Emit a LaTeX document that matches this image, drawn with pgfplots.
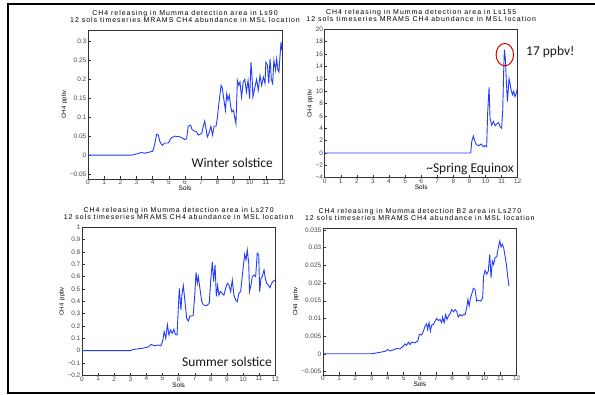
\documentclass[border=0pt]{standalone}
\usepackage{fontspec}
\usepackage{pgfplots}
\pgfplotsset{compat=1.18}
\setmainfont{Liberation Sans}
\newfontfamily\gradsfont[LetterSpace=14]{Liberation Sans}
\newfontfamily\tickfont{Liberation Sans}
\newfontfamily\calib{Carlito}
\definecolor{lineblue}{RGB}{35,60,250}
\definecolor{tickgray}{RGB}{70,70,70}
\pgfplotsset{
  mars/.style={
    scale only axis,
    xmin=0, xmax=12,
    scaled x ticks=false, scaled y ticks=false,
    xtick={0,1,2,3,4,5,6,7,8,9,10,11,12},
    xticklabels={0,1,2,3,4,5,6,7,8,9,10,11,12},
    tick pos=left, tick align=inside,
    major tick length=2.5bp,
    axis line style={black!80, line width=0.6bp},
    every tick/.style={black!80, line width=0.5bp},
    tick label style={font=\fontsize{6.5}{7}\tickfont, text=tickgray},
    xticklabel style={inner sep=1bp},
    yticklabel style={inner sep=1.5bp},
    xlabel={Sols},
    xlabel style={font=\fontsize{6.5}{7}\tickfont, at={(axis description cs:0.5,0)}, anchor=north, yshift=-7bp, inner sep=0pt},
    ylabel={CH4\ \ ppbv},
    ylabel style={font=\fontsize{6}{7}\tickfont, inner sep=1bp},
    title style={font=\fontsize{7}{7}\gradsfont, align=center, at={(axis description cs:0.5,1)}, anchor=south, yshift=1.5bp, inner sep=0pt},
    clip mode=individual,
  },
  ser/.style={lineblue, line width=0.9bp, no marks},
}
\begin{document}
\begin{tikzpicture}
\path[use as bounding box] (0bp,0bp) rectangle (595bp,395bp);
\draw[black, line width=1.8bp] (595bp,390.6bp) -- (8bp,390.6bp) -- (8bp,2bp) -- (595bp,2bp);

% Panel 1
\begin{axis}[mars, at={(88bp,216bp)}, anchor=south west, width=194bp, height=149bp,
  ymin=-0.063, ymax=0.33,
  ytick={-0.05,0,0.05,0.1,0.15,0.2,0.25,0.3},
  yticklabels={−0.05,0,0.05,0.1,0.15,0.2,0.25,0.3},
  title={CH4 releasing in Mumma detection area in Ls90\\12 sols timeseries MRAMS CH4 abundance in MSL location}]
\addplot[ser] coordinates {(0,0) (2.7,0) (3.1,0.004) (3.3,0.007) (3.5,0.005) (3.8,0.008) (4.0,0.01) (4.08,0.02) (4.25,0.055) (4.35,0.053) (4.45,0.035) (4.6,0.026) (4.75,0.032) (4.97,0.032) (5.07,0.04) (5.17,0.046) (5.4,0.05) (5.7,0.048) (6.0,0.041) (6.1,0.043) (6.2,0.076) (6.35,0.079) (6.43,0.068) (6.56,0.064) (6.72,0.061) (6.82,0.053) (7.03,0.057) (7.13,0.076) (7.22,0.09) (7.3,0.07) (7.38,0.048) (7.5,0.06) (7.6,0.076) (7.7,0.053) (7.8,0.076) (7.92,0.076) (8.0,0.097) (8.06,0.123) (8.12,0.145) (8.23,0.184) (8.3,0.178) (8.41,0.145) (8.5,0.118) (8.58,0.162) (8.66,0.145) (8.74,0.158) (8.82,0.13) (8.9,0.114) (9.0,0.118) (9.07,0.10) (9.15,0.083) (9.24,0.197) (9.32,0.184) (9.4,0.193) (9.5,0.153) (9.6,0.193) (9.7,0.2) (9.8,0.167) (9.9,0.197) (10.0,0.149) (10.08,0.245) (10.16,0.197) (10.2,0.153) (10.33,0.18) (10.43,0.2) (10.53,0.171) (10.64,0.21) (10.74,0.184) (10.85,0.206) (10.95,0.189) (11.0,0.245) (11.1,0.237) (11.18,0.189) (11.26,0.254) (11.34,0.2) (11.42,0.189) (11.5,0.25) (11.6,0.224) (11.67,0.254) (11.75,0.224) (11.81,0.219) (11.88,0.263) (11.94,0.298) (12.0,0.276)};
\node[anchor=east, font=\fontsize{13.5}{14}\calib, text=black!90, inner sep=0pt] at (axis description cs:0.954,0.107) {Winter solstice};
\end{axis}

% Panel 2
\begin{axis}[mars, at={(324.7bp,217.3bp)}, anchor=south west, width=193bp, height=148.4bp,
  ymin=-4, ymax=20,
  ytick={-4,-2,0,2,4,6,8,10,12,14,16,18,20},
  yticklabels={−4,−2,0,2,4,6,8,10,12,14,16,18,20},
  title={CH4 releasing in Mumma detection area in Ls155\\12 sols timeseries MRAMS CH4 abundance in MSL location}]
\addplot[ser] coordinates {(0,0) (9.08,0) (9.14,1.8) (9.24,2.75) (9.35,1.8) (9.45,1.3) (9.6,1.2) (9.72,1.45) (9.87,1.0) (9.97,1.2) (10.07,1.0) (10.13,6.4) (10.22,10.6) (10.28,5.6) (10.38,4.5) (10.49,5.1) (10.59,4.4) (10.7,4.7) (10.8,4.9) (10.9,4.3) (11.0,4.0) (11.07,7.0) (11.13,13.4) (11.17,16.7) (11.23,15.3) (11.3,11.3) (11.36,8.3) (11.46,12.0) (11.52,11.3) (11.59,10.2) (11.67,9.4) (11.75,10.0) (11.83,9.1) (11.92,9.7) (12.0,10.8)};
\draw[red!85!black, line width=1bp] (axis cs:11.2,15.9) ellipse [x radius=8.7bp, y radius=11.2bp];
\node[anchor=east, font=\fontsize{13.5}{14}\calib, text=black!90, inner sep=0pt] at (axis description cs:0.981,0.059) {\textasciitilde Spring Equinox};
\node[anchor=west, font=\fontsize{13.5}{14}\calib, text=black!90, inner sep=0pt] at (axis description cs:1.043,0.847) {17 ppbv!};
\end{axis}

% Panel 3
\begin{axis}[mars, at={(82bp,19.7bp)}, anchor=south west, width=193.3bp, height=148bp,
  ymin=-0.2, ymax=1,
  ytick={-0.2,-0.1,0,0.1,0.2,0.3,0.4,0.5,0.6,0.7,0.8,0.9,1},
  yticklabels={−0.2,−0.1,0,0.1,0.2,0.3,0.4,0.5,0.6,0.7,0.8,0.9,1},
  title={CH4 releasing in Mumma detection area in Ls270\\12 sols timeseries MRAMS CH4 abundance in MSL location}]
\addplot[ser] coordinates {(0,0) (3.0,0) (3.2,0.01) (3.8,0.02) (4.1,0.03) (4.3,0.05) (4.5,0.04) (4.7,0.045) (4.9,0.04) (5.0,0.073) (5.1,0.154) (5.2,0.1) (5.3,0.21) (5.4,0.127) (5.5,0.168) (5.6,0.14) (5.7,0.173) (5.8,0.13) (5.9,0.127) (6.04,0.505) (6.14,0.33) (6.2,0.45) (6.29,0.527) (6.39,0.4) (6.5,0.26) (6.6,0.24) (6.7,0.28) (6.9,0.284) (7.0,0.45) (7.08,0.635) (7.16,0.546) (7.22,0.6) (7.32,0.505) (7.43,0.4) (7.53,0.37) (7.74,0.365) (7.9,0.384) (8.0,0.586) (8.09,0.72) (8.17,0.56) (8.26,0.695) (8.34,0.44) (8.42,0.53) (8.5,0.45) (8.6,0.48) (8.7,0.465) (8.81,0.45) (8.92,0.505) (9.02,0.546) (9.12,0.532) (9.23,0.478) (9.33,0.573) (9.43,0.45) (9.54,0.41) (9.64,0.397) (9.74,0.465) (9.85,0.48) (10.0,0.667) (10.1,0.78) (10.18,0.735) (10.26,0.816) (10.35,0.708) (10.4,0.478) (10.49,0.532) (10.57,0.6) (10.68,0.614) (10.78,0.6) (10.88,0.79) (10.97,0.776) (11.03,0.478) (11.11,0.586) (11.19,0.6) (11.3,0.654) (11.38,0.586) (11.46,0.546) (11.57,0.532) (11.67,0.51) (11.77,0.546) (11.88,0.565) (12.0,0.573)};
\node[anchor=east, font=\fontsize{13.5}{14}\calib, text=black!90, inner sep=0pt] at (axis description cs:0.983,0.09) {Summer solstice};
\end{axis}

% Panel 4
\begin{axis}[mars, at={(323bp,20bp)}, anchor=south west, width=193.7bp, height=146.7bp,
  ymin=-0.006, ymax=0.0355,
  ytick={-0.005,0,0.005,0.01,0.015,0.02,0.025,0.03,0.035},
  yticklabels={−0.005,0,0.005,0.01,0.015,0.02,0.025,0.03,0.035},
  title={CH4 releasing in Mumma detection B2 area in Ls270\\12 sols timeseries MRAMS CH4 abundance in MSL location}]
\addplot[ser] coordinates {(0,0) (3.0,0) (3.4,0.0003) (3.85,0.0007) (4.0,0.0012) (4.15,0.0008) (4.36,0.0011) (4.56,0.0015) (4.77,0.0014) (4.98,0.0022) (5.08,0.0028) (5.18,0.0024) (5.29,0.0033) (5.39,0.0026) (5.49,0.0033) (5.7,0.0031) (5.87,0.0036) (5.97,0.0055) (6.11,0.0053) (6.22,0.0064) (6.32,0.0078) (6.42,0.0085) (6.48,0.0069) (6.57,0.0088) (6.65,0.0064) (6.73,0.0081) (6.84,0.0083) (6.94,0.0092) (7.04,0.01) (7.15,0.0094) (7.25,0.0097) (7.35,0.0088) (7.41,0.0104) (7.5,0.0088) (7.6,0.0111) (7.68,0.0097) (7.77,0.0107) (7.87,0.0113) (7.97,0.0125) (8.08,0.0119) (8.18,0.0125) (8.28,0.012) (8.38,0.0104) (8.49,0.0111) (8.59,0.0107) (8.7,0.0111) (8.8,0.011) (8.9,0.013) (8.98,0.0154) (9.05,0.0135) (9.13,0.0157) (9.21,0.0168) (9.31,0.0185) (9.42,0.0182) (9.52,0.0149) (9.62,0.0151) (9.79,0.0149) (9.89,0.0158) (9.95,0.022) (10.04,0.0236) (10.14,0.0225) (10.24,0.0234) (10.33,0.0281) (10.41,0.0215) (10.49,0.0262) (10.57,0.0253) (10.66,0.0272) (10.76,0.0274) (10.86,0.03) (10.95,0.0319) (11.03,0.0302) (11.11,0.031) (11.19,0.03) (11.28,0.0276) (11.36,0.0253) (11.44,0.022) (11.52,0.0192)};
\end{axis}
\end{tikzpicture}
\end{document}
